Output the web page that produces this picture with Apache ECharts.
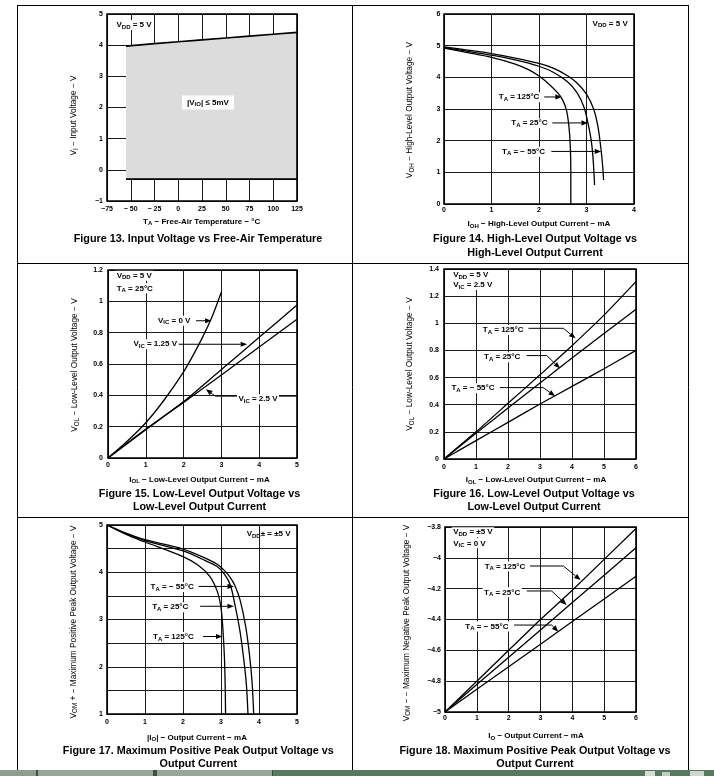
<!DOCTYPE html>
<html><head><meta charset="utf-8">
<script src="https://cdn.jsdelivr.net/npm/echarts@6/dist/echarts.min.js"></script>
<style>html,body{margin:0;padding:0;background:#fff}#c{width:714px;height:776px}</style>
</head><body><div id="c"></div>
<script>
// ================= DATA =================
// Figure 13 – Input voltage vs free-air temperature (|VIO| <= 5 mV region)
const f13Temp  = [-55, -25, 0, 25, 50, 75, 100, 125];
const f13Upper = [3.97, 4.05, 4.11, 4.17, 4.23, 4.29, 4.35, 4.41];
const f13Lower = [-0.3, -0.3, -0.3, -0.3, -0.3, -0.3, -0.3, -0.3];
const f13XLabels = ['−75', '− 50', '− 25', '0', '25', '50', '75', '100', '125'];
const f13YLabels = ['−1', '0', '1', '2', '3', '4', '5'];

// Figure 14 – VOH vs IOH
const f14I_125C = [0, 0.5, 1, 1.5, 1.8, 2, 2.2, 2.4, 2.5, 2.58, 2.63, 2.66, 2.67, 2.67];
const f14V_125C = [4.92, 4.78, 4.63, 4.42, 4.23, 4.04, 3.8, 3.5, 3.28, 2.95, 2.45, 1.8, 1.0, 0];
const f14I_25C  = [0, 0.5, 1, 1.5, 2, 2.3, 2.6, 2.8, 2.95, 3.03, 3.1, 3.14, 3.17];
const f14V_25C  = [4.94, 4.82, 4.7, 4.55, 4.35, 4.16, 3.86, 3.52, 3.05, 2.56, 2.0, 1.4, 0.6];
const f14I_m55C = [0, 0.5, 1, 1.5, 2, 2.3, 2.6, 2.8, 3.0, 3.15, 3.24, 3.3, 3.34, 3.36];
const f14V_m55C = [4.96, 4.86, 4.75, 4.61, 4.44, 4.29, 4.05, 3.82, 3.47, 3.0, 2.45, 1.8, 1.2, 0.76];
const f14XLabels = ['0', '1', '2', '3', '4'];
const f14YLabels = ['0', '1', '2', '3', '4', '5', '6'];

// Figure 15 – VOL vs IOL (VIC variants)
const f15I_0V   = [0, 0.5, 1, 1.5, 2, 2.25, 2.5, 2.75, 3];
const f15V_0V   = [0, 0.105, 0.225, 0.375, 0.55, 0.655, 0.77, 0.9, 1.06];
const f15I      = [0, 1, 2, 3, 4, 5];
const f15V_125V = [0, 0.18, 0.36, 0.565, 0.77, 0.977];
const f15V_25V  = [0, 0.185, 0.355, 0.53, 0.708, 0.885];
const f15XLabels = ['0', '1', '2', '3', '4', '5'];
const f15YLabels = ['0', '0.2', '0.4', '0.6', '0.8', '1', '1.2'];

// Figure 16 – VOL vs IOL (temperature variants)
const f16I       = [0, 1, 2, 3, 4, 5, 6];
const f16V_125C  = [0, 0.2, 0.41, 0.62, 0.835, 1.06, 1.307];
const f16V_25C   = [0, 0.19, 0.375, 0.56, 0.745, 0.925, 1.103];
const f16V_m55C  = [0, 0.135, 0.27, 0.405, 0.535, 0.665, 0.80];
const f16XLabels = ['0', '1', '2', '3', '4', '5', '6'];
const f16YLabels = ['0', '0.2', '0.4', '0.6', '0.8', '1', '1.2', '1.4'];

// Figure 17 – VOM+ vs |IO|
const f17I_125C = [0, 0.5, 1, 2, 2.4, 2.7, 2.9, 3.0, 3.05, 3.09, 3.11, 3.12];
const f17V_125C = [5, 4.8, 4.64, 4.33, 4.15, 3.92, 3.6, 3.25, 2.8, 2.2, 1.6, 1.0];
const f17I_25C  = [0, 0.5, 1, 2, 2.5, 2.9, 3.1, 3.25, 3.37, 3.5, 3.6, 3.67, 3.71];
const f17V_25C  = [5, 4.82, 4.67, 4.45, 4.28, 4.12, 3.95, 3.72, 3.3, 2.75, 2.15, 1.6, 1.0];
const f17I_m55C = [0, 0.5, 1, 2, 2.5, 2.9, 3.1, 3.25, 3.37, 3.5, 3.65, 3.75, 3.82, 3.86];
const f17V_m55C = [5, 4.83, 4.69, 4.49, 4.33, 4.17, 4.03, 3.88, 3.71, 3.42, 2.85, 2.25, 1.65, 1.0];
const f17XLabels = ['0', '1', '2', '3', '4', '5'];
const f17YLabels = ['1', '', '2', '', '3', '', '4', '', '5'];

// Figure 18 – VOM- vs IO
const f18I      = [0, 1, 2, 3, 4, 5, 6];
const f18V_125C = [-5, -4.80, -4.60, -4.40, -4.21, -4.01, -3.81];
const f18V_25C  = [-5, -4.822, -4.645, -4.468, -4.29, -4.113, -3.935];
const f18V_m55C = [-5, -4.853, -4.707, -4.56, -4.413, -4.267, -4.12];
const f18XLabels = ['0', '1', '2', '3', '4', '5', '6'];
const f18YLabels = ['−5', '−4.8', '−4.6', '−4.4', '−4.2', '−4', '−3.8'];

// ================= LAYOUT / STYLE =================
const FF = '"Liberation Sans", Arial, Helvetica, sans-serif';
const GRIDS = [
  {left: 107, top: 14,  width: 190, height: 187},
  {left: 444, top: 14,  width: 190, height: 190},
  {left: 108, top: 270, width: 189, height: 188},
  {left: 444, top: 269, width: 192, height: 190},
  {left: 107, top: 525, width: 190, height: 189},
  {left: 445, top: 527, width: 191, height: 185}
];
const SCALES = [
  {x: [-75, 125, 25], y: [-1, 5, 1],    xl: f13XLabels, yl: f13YLabels, xm: 5,   ym: 4},
  {x: [0, 4, 1],      y: [0, 6, 1],     xl: f14XLabels, yl: f14YLabels, xm: 3,   ym: 3.5},
  {x: [0, 5, 1],      y: [0, 1.2, 0.2], xl: f15XLabels, yl: f15YLabels, xm: 4,   ym: 5},
  {x: [0, 6, 1],      y: [0, 1.4, 0.2], xl: f16XLabels, yl: f16YLabels, xm: 5,   ym: 5},
  {x: [0, 5, 1],      y: [1, 5, 0.5],   xl: f17XLabels, yl: f17YLabels, xm: 5,   ym: 4},
  {x: [0, 6, 1],      y: [-5, -3.8, 0.2], xl: f18XLabels, yl: f18YLabels, xm: 2.5, ym: 4}
];

function fmt(labels, min, step) {
  return v => { const i = Math.round((v - min) / step); return labels[i] !== undefined ? labels[i] : ''; };
}
const tickFont = {fontFamily: FF, fontSize: 7, fontWeight: 'bold', color: '#000'};

const grid = GRIDS.map(g => Object.assign({
  show: true, z: 10, backgroundColor: 'transparent', borderColor: '#000', borderWidth: 1.6,
  containLabel: false
}, g));

const xAxis = SCALES.map((s, i) => ({
  type: 'value', gridIndex: i, min: s.x[0], max: s.x[1], interval: s.x[2],
  axisLine: {show: false}, axisTick: {show: false},
  splitLine: {show: true, lineStyle: {color: '#1a1a1a', width: 1}},
  axisLabel: Object.assign({margin: s.xm, hideOverlap: false, formatter: fmt(s.xl, s.x[0], s.x[2])}, tickFont)
}));
const yAxis = SCALES.map((s, i) => ({
  type: 'value', gridIndex: i, min: s.y[0], max: s.y[1], interval: s.y[2],
  axisLine: {show: false}, axisTick: {show: false},
  splitLine: {show: true, lineStyle: {color: '#1a1a1a', width: 1}},
  axisLabel: Object.assign({margin: s.ym, hideOverlap: false, formatter: fmt(s.yl, s.y[0], s.y[2])}, tickFont)
}));

function ln(g, xs, ys, smooth, w) {
  return {
    type: 'line', xAxisIndex: g, yAxisIndex: g, silent: true,
    data: xs.map((x, i) => [x, ys[i]]), symbol: 'none', showSymbol: false,
    smooth: smooth || false, lineStyle: {color: '#000', width: w || 1.3}
  };
}

const series = [
  {
    type: 'custom', xAxisIndex: 0, yAxisIndex: 0, silent: true, data: [[0, 0]],
    renderItem: (params, api) => {
      const pts = f13Temp.map((t, i) => api.coord([t, f13Upper[i]]));
      for (let i = f13Temp.length - 1; i >= 0; i--) pts.push(api.coord([f13Temp[i], f13Lower[i]]));
      return {type: 'polygon', shape: {points: pts}, style: {fill: '#dcdcdc'}};
    }
  },
  ln(0, f13Temp, f13Upper, false, 1.7),
  ln(0, f13Temp, f13Lower, false, 1.7),
  ln(1, f14I_125C, f14V_125C, 0.3),
  ln(1, f14I_25C, f14V_25C, 0.3),
  ln(1, f14I_m55C, f14V_m55C, 0.3),
  ln(2, f15I_0V, f15V_0V, 0.3),
  ln(2, f15I, f15V_125V, 0.2),
  ln(2, f15I, f15V_25V, 0.2),
  ln(3, f16I, f16V_125C, 0.2),
  ln(3, f16I, f16V_25C, 0.2),
  ln(3, f16I, f16V_m55C, 0.2),
  ln(4, f17I_125C, f17V_125C, 0.3),
  ln(4, f17I_25C, f17V_25C, 0.3),
  ln(4, f17I_m55C, f17V_m55C, 0.3),
  ln(5, f18I, f18V_125C),
  ln(5, f18I, f18V_25C),
  ln(5, f18I, f18V_m55C)
];

const chart = echarts.init(document.getElementById('c'), null, {renderer: 'canvas', width: 714, height: 776});
chart.setOption({animation: false, backgroundColor: '#fff', grid, xAxis, yAxis, series});

// ================= ANNOTATIONS (graphic) =================
const RICH = {
  a:  {fontFamily: FF, fontSize: 8, fontWeight: 'bold', fill: '#000', lineHeight: 10},
  as: {fontFamily: FF, fontSize: 6, fontWeight: 'bold', fill: '#000', verticalAlign: 'bottom'},
  x:  {fontFamily: FF, fontSize: 8, fontWeight: 'bold', fill: '#000', lineHeight: 10},
  xs: {fontFamily: FF, fontSize: 6, fontWeight: 'bold', fill: '#000', verticalAlign: 'bottom'},
  y:  {fontFamily: FF, fontSize: 8.3, fill: '#000', lineHeight: 10},
  ys: {fontFamily: FF, fontSize: 6.3, fill: '#000', verticalAlign: 'bottom'},
  c:  {fontFamily: FF, fontSize: 10.8, fontWeight: 'bold', fill: '#000'}
};
function rt(str, b, s) {
  let out = '', last = 0, m; const re = /_\{([^}]*)\}/g;
  while ((m = re.exec(str))) {
    if (m.index > last) out += '{' + b + '|' + str.slice(last, m.index) + '}';
    out += '{' + s + '|' + m[1] + '}';
    last = re.lastIndex;
  }
  if (last < str.length) out += '{' + b + '|' + str.slice(last) + '}';
  return out;
}
const P = (g, x, y) => chart.convertToPixel({gridIndex: g}, [x, y]);
const els = [];

function note(g, x, y, str, align, bg, pad) {
  const [px, py] = P(g, x, y);
  els.push({type: 'text', z: 21, x: px, y: py, silent: true, style: {
    text: rt(str, 'a', 'as'), rich: RICH, align: align, verticalAlign: 'middle',
    backgroundColor: bg === false ? 'transparent' : '#fff', padding: pad || [0, 1.5, 0, 1.5]
  }});
}
function arrow(g, pts) {
  const px = pts.map(p => P(g, p[0], p[1]));
  const n = px.length, a = px[n - 2], b = px[n - 1];
  const dx = b[0] - a[0], dy = b[1] - a[1], L = Math.hypot(dx, dy), ux = dx / L, uy = dy / L;
  const HL = 6.5, HW = 2.6, bx = b[0] - ux * HL, by = b[1] - uy * HL;
  els.push({type: 'polyline', z: 20, silent: true, shape: {points: px.slice(0, n - 1).concat([[bx, by]])},
    style: {stroke: '#000', lineWidth: 1, fill: 'none'}});
  els.push({type: 'polygon', z: 20, silent: true,
    shape: {points: [[b[0], b[1]], [bx - uy * HW, by + ux * HW], [bx + uy * HW, by - ux * HW]]},
    style: {fill: '#000'}});
}
function ttl(x, y, str, b, s, rot) {
  els.push({type: 'text', z: 22, x: x, y: y, rotation: rot || 0, silent: true,
    style: {text: rt(str, b, s), rich: RICH, align: 'center', verticalAlign: 'middle'}});
}

// Figure 13
note(0, -66.6, 4.65, 'V_{DD} = 5 V', 'left');
note(0, 31.3, 2.16, '|V_{IO}| ≤ 5mV', 'center', true, [2, 5, 2, 5]);
// Figure 14
note(1, 3.9, 5.7, 'V_{DD} = 5 V', 'right');
arrow(1, [[2.11, 3.38], [2.48, 3.38]]);
note(1, 2.04, 3.37, 'T_{A} = 125°C', 'right');
arrow(1, [[2.28, 2.56], [3.03, 2.56]]);
note(1, 2.21, 2.55, 'T_{A} = 25°C', 'right');
arrow(1, [[2.26, 1.66], [3.31, 1.66]]);
note(1, 2.16, 1.65, 'T_{A} = − 55°C', 'right');
// Figure 15
note(2, 0.19, 1.164, 'V_{DD} = 5 V', 'left');
note(2, 0.19, 1.083, 'T_{A} = 25°C', 'left');
arrow(2, [[2.33, 0.876], [2.74, 0.876]]);
note(2, 2.22, 0.876, 'V_{IC} = 0 V', 'right');
arrow(2, [[1.87, 0.726], [3.68, 0.726]]);
note(2, 1.865, 0.726, 'V_{IC} = 1.25 V', 'right');
arrow(2, [[5, 0.395], [2.84, 0.395], [2.59, 0.439]]);
note(2, 3.41, 0.375, 'V_{IC} = 2.5 V', 'left');
// Figure 16
note(3, 0.24, 1.356, 'V_{DD} = 5 V', 'left');
note(3, 0.24, 1.282, 'V_{IC} = 2.5 V', 'left');
arrow(3, [[2.64, 0.963], [3.73, 0.963], [4.11, 0.889]]);
note(3, 2.53, 0.95, 'T_{A} = 125°C', 'right');
arrow(3, [[2.58, 0.762], [3.21, 0.762], [3.625, 0.668]]);
note(3, 2.43, 0.75, 'T_{A} = 25°C', 'right');
arrow(3, [[1.75, 0.526], [3.10, 0.526], [3.47, 0.464]]);
note(3, 1.625, 0.521, 'T_{A} = − 55°C', 'right');
// Figure 17
note(4, 4.87, 4.81, 'V_{DD}± = ±5 V', 'right', false);
arrow(4, [[2.41, 3.70], [3.34, 3.70]]);
note(4, 2.32, 3.69, 'T_{A} = − 55°C', 'right');
arrow(4, [[2.45, 3.28], [3.34, 3.28]]);
note(4, 2.18, 3.26, 'T_{A} = 25°C', 'right');
arrow(4, [[2.53, 2.64], [3.04, 2.64]]);
note(4, 2.32, 2.63, 'T_{A} = 125°C', 'right');
// Figure 18
note(5, 0.21, -3.834, 'V_{DD} = ±5 V', 'left');
note(5, 0.21, -3.906, 'V_{IC} = 0 V', 'left');
arrow(5, [[2.67, -4.053], [3.72, -4.053], [4.26, -4.144]]);
note(5, 2.57, -4.057, 'T_{A} = 125°C', 'right');
arrow(5, [[2.57, -4.215], [3.35, -4.215], [3.82, -4.306]]);
note(5, 2.41, -4.224, 'T_{A} = 25°C', 'right');
arrow(5, [[2.17, -4.436], [3.35, -4.436], [3.56, -4.479]]);
note(5, 2.04, -4.446, 'T_{A} = − 55°C', 'right');

// Axis titles
const R = Math.PI / 2;
ttl(74, 115.5, 'V_{I} − Input Voltage − V', 'y', 'ys', R);
ttl(410, 110, 'V_{OH} − High-Level Output Voltage − V', 'y', 'ys', R);
ttl(75, 365, 'V_{OL} − Low-Level Output Voltage − V', 'y', 'ys', R);
ttl(410, 364, 'V_{OL} − Low-Level Output Voltage − V', 'y', 'ys', R);
ttl(73.3, 622, 'V_{OM} + − Maximum Positive Peak Output Voltage − V', 'y', 'ys', R);
ttl(406.7, 623, 'V_{OM} − − Maximum Negative Peak Output Voltage − V', 'y', 'ys', R);
ttl(201.7, 221.7, 'T_{A} − Free-Air Temperature − °C', 'x', 'xs');
ttl(539, 224, 'I_{OH} − High-Level Output Current − mA', 'x', 'xs');
ttl(199.5, 479.3, 'I_{OL} − Low-Level Output Current − mA', 'x', 'xs');
ttl(536, 480, 'I_{OL} − Low-Level Output Current − mA', 'x', 'xs');
ttl(197, 737.7, '|I_{O}| − Output Current − mA', 'x', 'xs');
ttl(536, 736, 'I_{O} − Output Current − mA', 'x', 'xs');

// Captions
ttl(198, 238.7, 'Figure 13. Input Voltage vs Free-Air Temperature', 'c', 'c');
ttl(535, 239, 'Figure 14. High-Level Output Voltage vs', 'c', 'c');
ttl(535, 253, 'High-Level Output Current', 'c', 'c');
ttl(199.5, 494, 'Figure 15. Low-Level Output Voltage vs', 'c', 'c');
ttl(199.5, 507.3, 'Low-Level Output Current', 'c', 'c');
ttl(534, 494.3, 'Figure 16. Low-Level Output Voltage vs', 'c', 'c');
ttl(534, 507.3, 'Low-Level Output Current', 'c', 'c');
ttl(198.3, 751.5, 'Figure 17. Maximum Positive Peak Output Voltage vs', 'c', 'c');
ttl(198.3, 764.3, 'Output Current', 'c', 'c');
ttl(535, 751.5, 'Figure 18. Maximum Positive Peak Output Voltage vs', 'c', 'c');
ttl(535, 764.3, 'Output Current', 'c', 'c');

// Page frame
function hl(x1, y1, x2, y2) {
  els.push({type: 'line', z: 30, silent: true, shape: {x1, y1, x2, y2}, style: {stroke: '#000', lineWidth: 1}});
}
hl(17, 5.5, 689, 5.5);
hl(17, 263.5, 689, 263.5);
hl(17, 517.5, 689, 517.5);
hl(17.5, 5, 17.5, 770);
hl(352.5, 5, 352.5, 770);
hl(688.5, 5, 688.5, 770);

// bottom task-bar strip
function rc(x, y, w, h, c) {
  els.push({type: 'rect', z: 40, silent: true, shape: {x, y, width: w, height: h}, style: {fill: c}});
}
rc(0, 770, 714, 6, '#557a5d');
rc(0, 770, 36, 6, '#8e9d8e');
rc(38, 770, 115, 6, '#97a697');
rc(157, 770, 115, 6, '#97a697');
rc(36, 770, 2, 6, '#3f4f3f');
rc(153, 770, 4, 6, '#3f4f3f');
rc(272, 770, 1, 6, '#3f4f3f');
rc(645, 771, 10, 5, '#d6ddd6');
rc(662, 772, 8, 4, '#c2cbc2');
rc(690, 771, 14, 5, '#d0d7d0');

chart.setOption({graphic: {elements: els}});
</script>
</body></html>
